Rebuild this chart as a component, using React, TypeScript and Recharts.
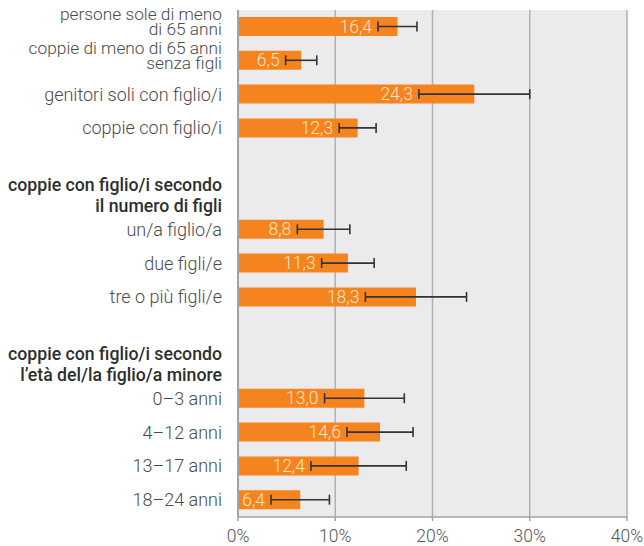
import { BarChart, Bar, XAxis, YAxis, CartesianGrid, ErrorBar, LabelList } from 'recharts'

// righe del grafico (le vuote servono da spaziatura, le intestazioni sono in grassetto)
const categories = [
  'persone sole di meno\ndi 65 anni',
  'coppie di meno di 65 anni\nsenza figli',
  'genitori soli con figlio/i',
  'coppie con figlio/i',
  '',
  'coppie con figlio/i secondo\nil numero di figli',
  'un/a figlio/a',
  'due figli/e',
  'tre o più figli/e',
  '',
  'coppie con figlio/i secondo\nl’età del/la figlio/a minore',
  '0–3 anni',
  '4–12 anni',
  '13–17 anni',
  '18–24 anni',
]
const headerRows = [5, 10]
const values = [16.4, 6.5, 24.3, 12.3, null, null, 8.8, 11.3, 18.3, null, null, 13.0, 14.6, 12.4, 6.4]
const errors = [2.0, 1.6, 5.7, 1.9, null, null, 2.7, 2.7, 5.2, null, null, 4.1, 3.4, 4.9, 3.0]
const xTicks = [0, 10, 20, 30, 40]

const data = categories.map((_, i) => ({ key: String(i), value: values[i], err: errors[i] }))

const GRID = '#b1b1b3'
const AXIS = '#a3a3a5'
const FONT = 'Roboto'

function CategoryTick(props: any) {
  const { x, y, payload } = props
  const i = Number(payload.value)
  if (!categories[i]) return null
  const lines = categories[i].split('\n')
  const header = headerRows.includes(i)
  let offsets: number[]
  if (header) offsets = [-5, 16]
  else if (lines.length === 2) offsets = [-7, 8]
  else offsets = [6]
  // le etichette su due righe sono un po' più piccole per non toccarsi
  const size = header ? 17.7 : lines.length === 2 ? 17.3 : 18
  return (
    <text
      x={x}
      y={y + offsets[0]}
      textAnchor="end"
      fill={header ? '#2e2e2e' : '#4a4a4a'}
      fontSize={size}
      fontWeight={header ? 500 : 300}
      fontFamily={FONT}
    >
      {lines.map((line, j) => (
        <tspan key={j} x={x} y={y + offsets[j]}>
          {line}
        </tspan>
      ))}
    </text>
  )
}

function ValueLabel(props: any) {
  const { x, y, width, height, value } = props
  const i = Number(value)
  const v = values[i]
  if (v == null) return null
  const err = errors[i] ?? 0
  const lowX = x + (width * (v - err)) / v
  return (
    <text
      x={lowX - 6}
      y={y + height / 2}
      textAnchor="end"
      dominantBaseline="central"
      fill="#fde3c6"
      fontSize={17.5}
      fontWeight={300}
      fontFamily={FONT}
    >
      {v.toFixed(1).replace('.', ',')}
    </text>
  )
}

export default function App() {
  return (
    <div style={{ position: 'absolute', left: 0, top: 0, fontFamily: FONT }}>
      <BarChart
        width={644}
        height={546}
        data={data}
        layout="vertical"
        margin={{ top: 10, right: 17, bottom: 0, left: 0 }}
      >
        <CartesianGrid horizontal={false} fill="#ebebed" stroke={GRID} strokeWidth={1.5} />
        <XAxis
          type="number"
          domain={[0, 40]}
          ticks={xTicks}
          tickFormatter={(v: number) => `${v}%`}
          tickSize={4}
          tickMargin={9}
          height={29}
          tick={{ fill: '#555', fontSize: 17.5, fontWeight: 300, fontFamily: FONT }}
          axisLine={{ stroke: AXIS, strokeWidth: 1.5 }}
          tickLine={{ stroke: AXIS, strokeWidth: 1.5 }}
        />
        <XAxis
          xAxisId="top"
          orientation="top"
          type="number"
          domain={[0, 40]}
          ticks={xTicks}
          tick={false}
          tickLine={false}
          height={0}
          axisLine={{ stroke: AXIS, strokeWidth: 1.5 }}
        />
        <YAxis
          type="category"
          dataKey="key"
          width={238}
          tickSize={0}
          tickMargin={16}
          tickLine={false}
          interval={0}
          tick={<CategoryTick />}
          axisLine={{ stroke: AXIS, strokeWidth: 2 }}
        />
        <Bar dataKey="value" fill="#f5841f" barSize={19} isAnimationActive={false}>
          <ErrorBar dataKey="err" direction="x" width={5} stroke="#333" strokeWidth={1.6} />
          <LabelList dataKey="key" content={<ValueLabel />} />
        </Bar>
      </BarChart>
    </div>
  )
}
